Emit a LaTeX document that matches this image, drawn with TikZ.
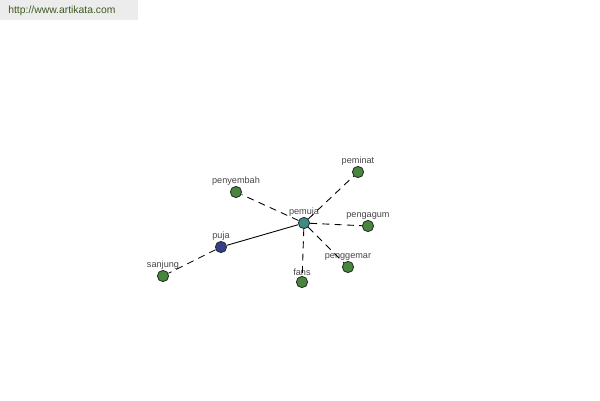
\documentclass[tikz,border=0pt]{standalone}
\usepackage{fontspec}
\setmainfont{Liberation Sans}
\usepackage{xcolor}
\usepackage{tikz}
\usetikzlibrary{positioning}
\definecolor{wordgreen} {RGB}{72,134,62}
\definecolor{rootteal}  {RGB}{58,140,132}
\definecolor{basenavy}  {RGB}{52,62,140}
\definecolor{nodeedge}  {RGB}{40,50,40}
\definecolor{bannergray}{RGB}{236,236,236}
\definecolor{bannertext}{RGB}{60,90,30}
\definecolor{labelgray} {RGB}{70,70,70}
\tikzset{
  word/.style   ={circle, draw=nodeedge, line width=0.5pt, fill=#1,
                  minimum size=6.4pt, inner sep=0pt},
  word/.default =wordgreen,
  wlabel/.style ={font=\fontsize{5.2}{6}\selectfont, text=labelgray,
                  inner sep=1pt},
  link/.style   ={line width=0.5pt},
  dlink/.style  ={line width=0.5pt, dash pattern=on 4pt off 3pt},
}
\begin{document}
\begin{tikzpicture}[x=0.02cm, y=-0.02cm]
  \useasboundingbox (0,0) rectangle (600,400);
  \fill[bannergray] (0,0) rectangle (138,20);
  \node[font=\fontsize{5.9}{7}\selectfont, text=bannertext, anchor=west,
        inner sep=0pt] (site) at (8,11) {http://www.artikata.com};

  \node[word=rootteal] (pemuja) at (304,223) {};
  \node[word=basenavy] (puja) at (221,247) {};
  \node[word] (sanjung)   at (163,276) {};
  \node[word] (penyembah) at (236,192) {};
  \node[word] (peminat)   at (358,172) {};
  \node[word] (pengagum)  at (368,226) {};
  \node[word] (penggemar) at (348,267) {};
  \node[word] (fans)      at (302,282) {};

  \node[wlabel, above=-1pt of pemuja]    (lpemuja)    {pemuja};
  \node[wlabel, above=-1pt of puja]      (lpuja)      {puja};
  \node[wlabel, above=-1pt of sanjung]   (lsanjung)   {sanjung};
  \node[wlabel, above=-1pt of penyembah] (lpenyembah) {penyembah};
  \node[wlabel, above=-1pt of peminat]   (lpeminat)   {peminat};
  \node[wlabel, above=-1pt of pengagum]  (lpengagum)  {pengagum};
  \node[wlabel, above=-1pt of penggemar] (lpenggemar) {penggemar};
  \node[wlabel, above=-1pt of fans]      (lfans)      {fans};

  \draw[link](pemuja)--(puja);\draw[dlink](puja)--(sanjung);
  \draw[dlink](pemuja)--(penyembah);\draw[dlink](pemuja)--(peminat);
  \draw[dlink](pemuja)--(pengagum);\draw[dlink](pemuja)--(penggemar);
  \draw[dlink](pemuja)--(fans);
\end{tikzpicture}
\end{document}
